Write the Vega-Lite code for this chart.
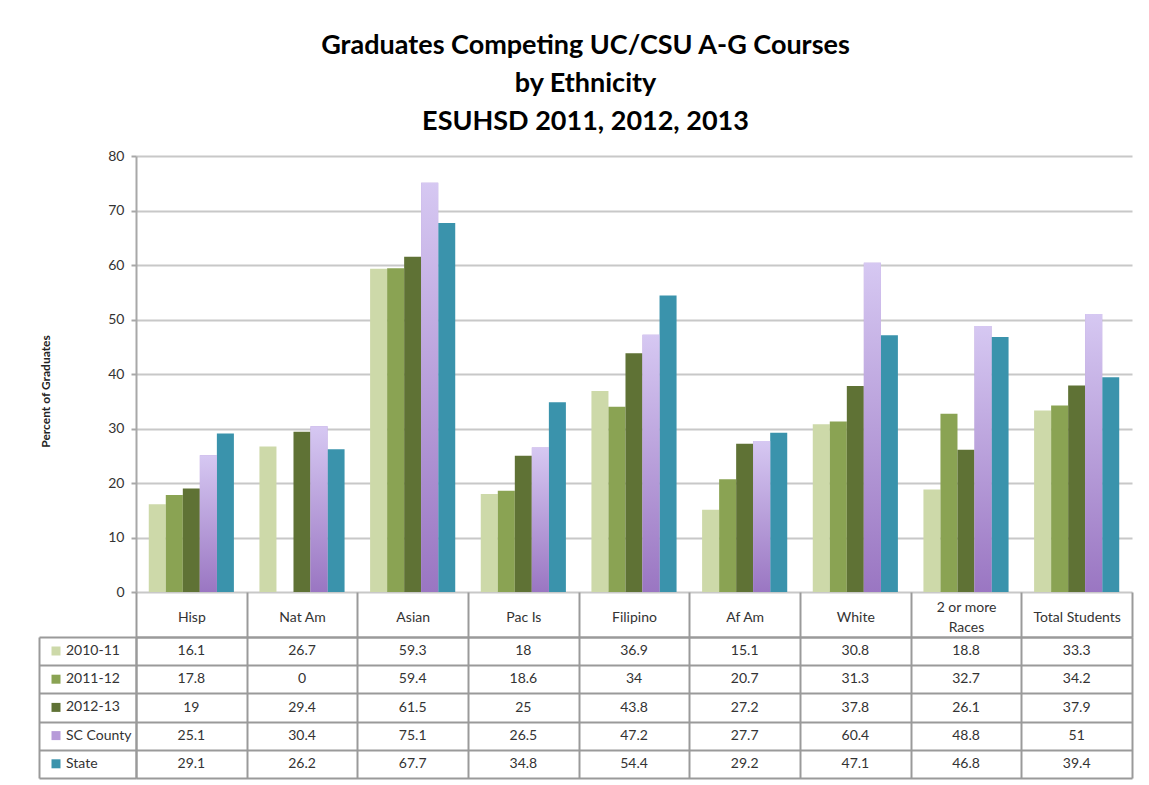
{
  "$schema": "https://vega.github.io/schema/vega-lite/v6.json",
  "background": "white",
  "padding": {"left": 38, "top": 32, "right": 10, "bottom": 5},
  "title": {
    "text": ["Graduates Competing UC/CSU A-G Courses", "by Ethnicity", "ESUHSD 2011, 2012, 2013"],
    "font": "Lato", "fontSize": 27, "fontWeight": "bold", "color": "#000000",
    "lineHeight": 38, "anchor": "middle", "frame": "bounds", "offset": 13
  },
  "config": {
    "view": {"stroke": null},
    "font": "Lato",
    "axis": {"labelFont": "Lato", "titleFont": "Lato"},
    "legend": {"labelFont": "Lato"}
  },
  "data": {
    "values": [
      {"group": "Hisp", "series": "2010-11", "value": 16.1},
      {"group": "Hisp", "series": "2011-12", "value": 17.8},
      {"group": "Hisp", "series": "2012-13", "value": 19},
      {"group": "Hisp", "series": "SC County", "value": 25.1},
      {"group": "Hisp", "series": "State", "value": 29.1},
      {"group": "Nat Am", "series": "2010-11", "value": 26.7},
      {"group": "Nat Am", "series": "2011-12", "value": 0},
      {"group": "Nat Am", "series": "2012-13", "value": 29.4},
      {"group": "Nat Am", "series": "SC County", "value": 30.4},
      {"group": "Nat Am", "series": "State", "value": 26.2},
      {"group": "Asian", "series": "2010-11", "value": 59.3},
      {"group": "Asian", "series": "2011-12", "value": 59.4},
      {"group": "Asian", "series": "2012-13", "value": 61.5},
      {"group": "Asian", "series": "SC County", "value": 75.1},
      {"group": "Asian", "series": "State", "value": 67.7},
      {"group": "Pac Is", "series": "2010-11", "value": 18},
      {"group": "Pac Is", "series": "2011-12", "value": 18.6},
      {"group": "Pac Is", "series": "2012-13", "value": 25},
      {"group": "Pac Is", "series": "SC County", "value": 26.5},
      {"group": "Pac Is", "series": "State", "value": 34.8},
      {"group": "Filipino", "series": "2010-11", "value": 36.9},
      {"group": "Filipino", "series": "2011-12", "value": 34},
      {"group": "Filipino", "series": "2012-13", "value": 43.8},
      {"group": "Filipino", "series": "SC County", "value": 47.2},
      {"group": "Filipino", "series": "State", "value": 54.4},
      {"group": "Af Am", "series": "2010-11", "value": 15.1},
      {"group": "Af Am", "series": "2011-12", "value": 20.7},
      {"group": "Af Am", "series": "2012-13", "value": 27.2},
      {"group": "Af Am", "series": "SC County", "value": 27.7},
      {"group": "Af Am", "series": "State", "value": 29.2},
      {"group": "White", "series": "2010-11", "value": 30.8},
      {"group": "White", "series": "2011-12", "value": 31.3},
      {"group": "White", "series": "2012-13", "value": 37.8},
      {"group": "White", "series": "SC County", "value": 60.4},
      {"group": "White", "series": "State", "value": 47.1},
      {"group": "2 or more Races", "series": "2010-11", "value": 18.8},
      {"group": "2 or more Races", "series": "2011-12", "value": 32.7},
      {"group": "2 or more Races", "series": "2012-13", "value": 26.1},
      {"group": "2 or more Races", "series": "SC County", "value": 48.8},
      {"group": "2 or more Races", "series": "State", "value": 46.8},
      {"group": "Total Students", "series": "2010-11", "value": 33.3},
      {"group": "Total Students", "series": "2011-12", "value": 34.2},
      {"group": "Total Students", "series": "2012-13", "value": 37.9},
      {"group": "Total Students", "series": "SC County", "value": 51},
      {"group": "Total Students", "series": "State", "value": 39.4}
    ]
  },
  "spacing": 45,
  "bounds": "flush",
  "vconcat": [
    {
      "width": 996,
      "height": 436,
      "layer": [
        {
          "mark": {"type": "bar"},
          "encoding": {
            "x": {"field": "group", "type": "nominal",
              "scale": {"domain": ["Hisp", "Nat Am", "Asian", "Pac Is", "Filipino", "Af Am", "White", "2 or more Races", "Total Students"], "paddingInner": 0, "paddingOuter": 0},
              "axis": null},
            "xOffset": {"field": "series", "type": "nominal",
              "scale": {"domain": ["2010-11", "2011-12", "2012-13", "SC County", "State"], "paddingInner": 0, "paddingOuter": 0.75}},
            "y": {"field": "value", "type": "quantitative",
              "scale": {"domain": [0, 80]},
              "axis": {
                "values": [0, 10, 20, 30, 40, 50, 60, 70, 80],
                "grid": true, "gridColor": "#c8c8c8", "gridWidth": 2,
                "domainColor": "#a8a8a8", "domainWidth": 2,
                "tickColor": "#a8a8a8", "tickWidth": 2, "tickSize": 5,
                "labelFontSize": 14, "labelColor": "#333333", "labelPadding": 7,
                "title": "Percent of Graduates", "titleFontSize": 12, "titleFontWeight": "bold",
                "titleColor": "#222222", "titlePadding": 55, "titleY": 235
              }},
            "color": {"field": "series", "type": "nominal",
              "scale": {"domain": ["2010-11", "2011-12", "2012-13", "SC County", "State"],
                "range": ["#cdd9a9", "#8aa353", "#5f7235", "#b79bd9", "#3a93ac"]},
              "legend": {
                "orient": "none", "legendX": -87, "legendY": 488,
                "title": null, "symbolType": "square", "symbolSize": 81, "symbolStrokeWidth": 0,
                "labelFontSize": 14, "labelColor": "#333333", "rowPadding": 14.2, "labelOffset": 3, "padding": 0
              }}
          }
        },
        {
          "transform": [{"filter": "datum.series === 'SC County'"}],
          "mark": {"type": "bar", "color": {"gradient": "linear", "x1": 0, "y1": 0, "x2": 0, "y2": 1,
            "stops": [{"offset": 0, "color": "#d6c8f2"}, {"offset": 1, "color": "#9a76c2"}]}},
          "encoding": {
            "x": {"field": "group", "type": "nominal"},
            "xOffset": {"field": "series", "type": "nominal"},
            "y": {"field": "value", "type": "quantitative"}
          }
        }
      ]
    },
    {
      "width": 996,
      "height": 141,
      "layer": [
        {
          "mark": {"type": "text", "fontSize": 14, "color": "#333333", "font": "Lato"},
          "encoding": {
            "x": {"field": "group", "type": "nominal",
              "scale": {"domain": ["Hisp", "Nat Am", "Asian", "Pac Is", "Filipino", "Af Am", "White", "2 or more Races", "Total Students"], "paddingInner": 0, "paddingOuter": 0},
              "axis": {"orient": "top", "title": null, "tickBand": "extent", "tickSize": 45,
                "tickColor": "#9a9a9a", "tickWidth": 2, "domainColor": "#9a9a9a", "domainWidth": 2,
                "grid": true, "gridColor": "#9a9a9a", "gridWidth": 2,
                "labelPadding": -25,
                "labelBaseline": {"condition": {"test": "datum.value === '2 or more Races'", "value": "line-bottom"}, "value": "middle"},
                "labelAngle": 0,
                "labelFontSize": 14, "labelColor": "#333333", "labelLineHeight": 20,
                "labelExpr": "datum.value === '2 or more Races' ? ['2 or more', 'Races'] : datum.label"}},
            "y": {"field": "series", "type": "nominal",
              "scale": {"domain": ["2010-11", "2011-12", "2012-13", "SC County", "State"], "paddingInner": 0, "paddingOuter": 0},
              "axis": {"title": null, "labels": false, "tickBand": "extent", "tickSize": 97,
                "tickColor": "#9a9a9a", "tickWidth": 2, "domainColor": "#9a9a9a", "domainWidth": 2,
                "grid": true, "gridColor": "#9a9a9a", "gridWidth": 2}},
            "text": {"field": "value", "type": "nominal"}
          }
        },
        {
          "mark": {"type": "text", "text": ""},
          "encoding": {
            "y": {"field": "series", "type": "nominal",
              "axis": {"orient": "left", "offset": 97, "title": null, "labels": false, "ticks": false, "grid": false,
                "domainColor": "#9a9a9a", "domainWidth": 2}}
          }
        }
      ],
      "resolve": {"axis": {"y": "independent"}}
    }
  ]
}
